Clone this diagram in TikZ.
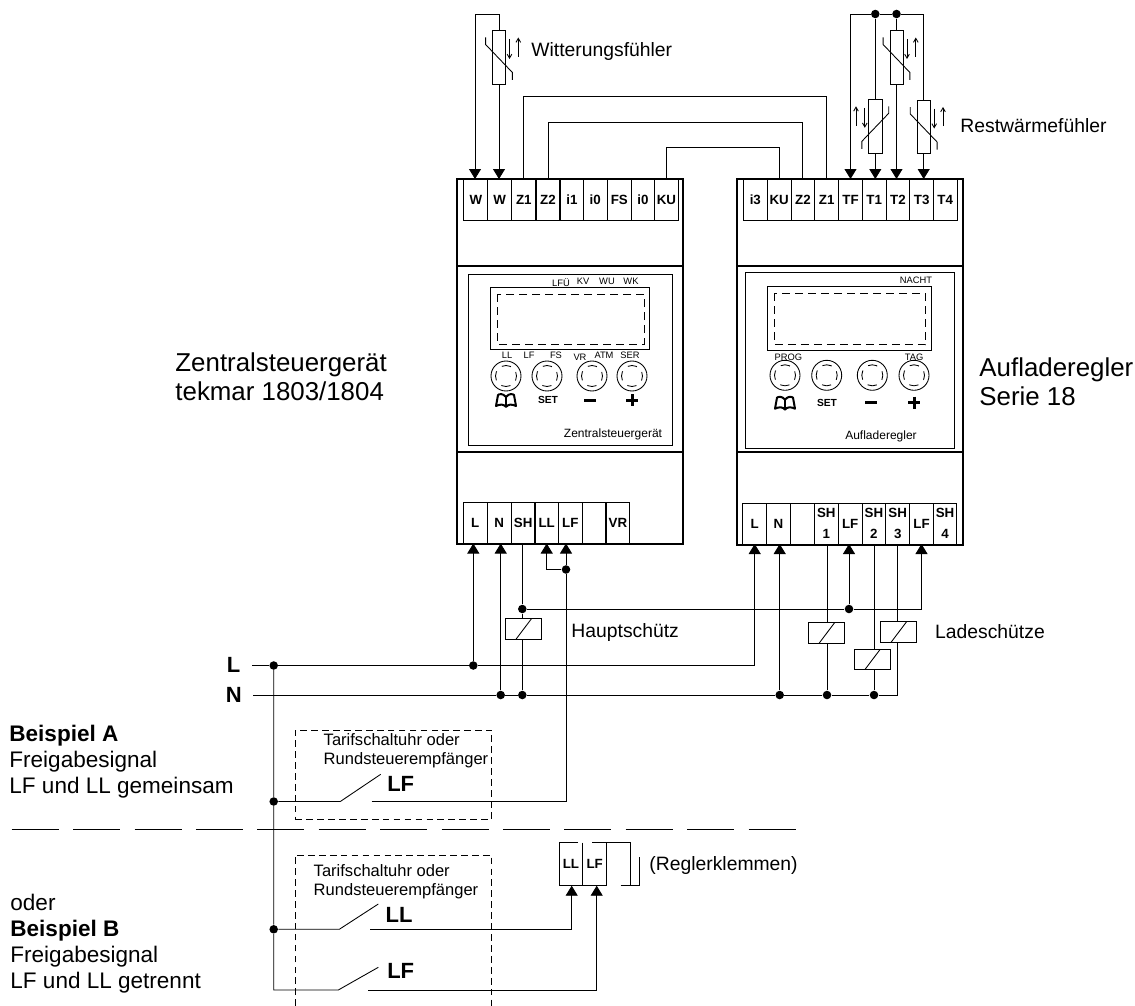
\documentclass[tikz,border=0pt]{standalone}
\usepackage{fontspec}
\setmainfont{Liberation Sans}
\usetikzlibrary{arrows.meta}

\tikzset{
        pxsize/.style 2 args={minimum width=#1*0.75pt, minimum height=#2*0.75pt},
        kasten/.style={draw, rectangle, inner sep=0pt, outer sep=0pt},
        geraet/.style={kasten, line width=1.5pt},
        klemme/.style={kasten, line width=0.65pt, pxsize={23.8}{41}, align=center, font=\fontsize{10}{15.7}\selectfont\bfseries},
        klein/.style={inner sep=0pt, font=\fontsize{7}{8}\selectfont},
        typ/.style={inner sep=0pt, font=\fontsize{9}{11}\selectfont},
        taste/.style={inner sep=0pt, font=\fontsize{7.7}{9}\selectfont\bfseries},
        titel/.style={inner sep=0pt, anchor=west, align=left, font=\fontsize{19.4}{21.6}\selectfont},
        gross/.style={inner sep=0pt, anchor=west, align=left, font=\fontsize{16.9}{19.6}\selectfont},
        mittel/.style={inner sep=0pt, anchor=west, font=\fontsize{14.5}{17}\selectfont},
        uhr/.style={inner sep=0pt, anchor=west, align=left, font=\fontsize{12.4}{14.3}\selectfont},
        netz/.style={inner sep=0pt, font=\fontsize{16.5}{18}\selectfont\bfseries},
        punkt/.style={circle, fill, inner sep=0pt, minimum size=6.4pt},
        strich/.style={dash pattern=on 5pt off 3.2pt, line width=0.65pt},
        spule/.style={kasten, fill=white, line width=0.65pt, pxsize={36}{20.5}, path picture={
                \draw ([xshift=-5.8pt]path picture bounding box.south) -- ([xshift=5.8pt]path picture bounding box.north);}},
        fuehler/.pic={
                \draw (-13.4,-20) -- (-13.4,-13) -- (13.4,15) -- (13.4,22.5);
                \draw[-{Straight Barb[length=3pt,width=3.5pt]}] (10.5,-18.5) -- (10.5,1.5);
                \draw[-{Straight Barb[length=3pt,width=3.5pt]}] (19.3,-0.8) -- (19.3,-20);},
        knopf/.pic={
                \draw (0,0) circle (15);
                \draw[dash pattern=on 7pt off 5.4pt, dash phase=3.5pt] (0,0) circle (10.5);},
        buch/.pic={
                \draw[line width=1.5pt, line join=round] (0,-3) .. controls (-3,-7) and (-7,-6) .. (-8,-5) -- (-10,6) .. controls (-6,4) and (-2,4) .. (0,7)
                        .. controls (2,4) and (6,4) .. (10,6) -- (8,-5) .. controls (7,-6) and (3,-7) .. (0,-3) -- cycle;
                \draw[line width=1.5pt] (0,-3) -- (0,7);},
}

\begin{document}
\begin{tikzpicture}[x=0.75pt, y=-0.75pt, line width=0.65pt, >={Triangle[width=9pt,length=7.5pt]}]
        \useasboundingbox (0,0) rectangle (1135,1006);

        \node[geraet, pxsize={226}{365}] (zsg) at (570,361.5) {};
        \node[geraet, pxsize={226.3}{366.5}] (alr) at (849.85,361.75) {};
        \draw[line width=1.1pt] (zsg.west |- 0,266) -- (zsg.east |- 0,266);
        \draw[line width=1.1pt] (zsg.west |- 0,452) -- (zsg.east |- 0,452);
        \draw[line width=1.1pt] (alr.west |- 0,266) -- (alr.east |- 0,266);
        \draw[line width=1.1pt] (alr.west |- 0,452) -- (alr.east |- 0,452);

        \foreach \x/\nm/\tx in {475.8/zwa/W, 499.7/zwb/W, 523.8/zza/Z1, 548/zzb/Z2, 572/zia/i1, 595.3/zib/i0, 619.3/zfs/FS, 643/zic/i0, 666.4/zku/KU}
                \node[klemme] (\nm) at (\x,199.5) {\tx};
        \foreach \x/\nm/\tx in {475.2/zl/L, 499.2/zn/N, 523.2/zsh/SH, 546.7/zll/LL, 570.3/zlf/LF, 594/zle/, 618/zvr/VR}
                \node[klemme] (\nm) at (\x,523) {\tx};
        \foreach \x/\nm/\tx in {755.3/ri/i3, 779.2/rku/KU, 802.9/rzb/Z2, 826.7/rza/Z1, 850.5/rtf/TF, 874.2/rta/T1, 898/rtb/T2, 921.7/rtc/T3, 945.2/rtd/T4}
                \node[klemme] (\nm) at (\x,199.5) {\tx};
        \foreach \x/\nm/\tx in {754.7/rl/L, 778.5/rn/N, 802.3/rle/, 826.3/rsa/{SH\\1}, 850.2/rfa/LF, 873.9/rsb/{SH\\2}, 897.7/rsc/{SH\\3}, 921.5/rfb/LF, 945/rsd/{SH\\4}}
                \node[klemme] (\nm) at (\x,523.5) {\tx};

        \node[kasten, pxsize={204}{171}] (zfeld) at (570,359.5) {};
        \node[kasten, pxsize={159}{62}] (zanz) at (569.5,318) {};
        \node[kasten, pxsize={208.6}{176}] (rfeld) at (850,360.3) {};
        \node[kasten, pxsize={163.7}{64}] (ranz) at (849.2,318) {};
        \draw[dash pattern=on 6pt off 3.75pt] (497,294) rectangle (644,344);
        \draw[dash pattern=on 6pt off 3.75pt] (774.3,293.3) rectangle (925.7,344.7);

        \foreach \x/\y/\tx in {561/283/LFÜ, 583/281/KV, 607/281/WU, 631/281/WK, 507/355/LL, 529/355/LF, 556/355/FS, 580/357/VR, 604/355/ATM, 630/355/SER, 916/280.7/NACHT, 788.3/357.3/PROG, 914/357/TAG}
                \node[klein] at (\x,\y) {\tx};
        \foreach \x/\y in {506/376, 547/376, 592/376, 632/376, 785/375.3, 826.7/375.3, 872.3/375.3, 914/375.3}
                \pic at (\x,\y) {knopf};
        \pic at (506,400) {buch};
        \pic at (785,402.7) {buch};
        \node[taste] (zset) at (548,400) {SET};
        \node[taste] (rset) at (827,402.7) {SET};
        \draw[line width=2.25pt] (584,400) -- (596,400);
        \draw[line width=2.25pt] (626,400) -- (638,400);
        \draw[line width=2.25pt] (632,394) -- (632,406);
        \draw[line width=2.25pt] (865,402.7) -- (877,402.7);
        \draw[line width=2.25pt] (908,402.7) -- (920,402.7);
        \draw[line width=2.25pt] (914,396.7) -- (914,408.7);
        \node[typ] (ztyp) at (613,434) {Zentralsteuergerät};
        \node[typ] (rtyp) at (881,436.7) {Aufladeregler};

        \node[kasten, pxsize={13.3}{53.5}] (fa) at (499,57.5) {};
        \node[kasten, pxsize={13.6}{54}] (fb) at (875.3,126.3) {};
        \node[kasten, pxsize={13}{53.6}] (fc) at (896.5,57.5) {};
        \node[kasten, pxsize={12.7}{53.7}] (fd) at (923.7,127) {};
        \pic at (499,57.5) {fuehler};
        \pic[xscale=-1] at (875.3,126.3) {fuehler};
        \pic at (896.5,57.5) {fuehler};
        \pic at (923.7,127) {fuehler};
        \coordinate (fe) at (475,14);
        \node[punkt] (da) at (875.3,14) {};
        \node[punkt] (db) at (896.5,14) {};
        \draw[->] (fa.north) |- (fe) -- (fe |- zwa.north);
        \draw[->] (fa.south) -- (fa.south |- zwb.north);
        \draw (da) -- (db);
        \draw[->] (da) -| (rtf.north);
        \draw (da) -- (fb.north);
        \draw[->] (fb.south) -- (fb.south |- rta.north);
        \draw (db) -- (fc.north);
        \draw[->] (fc.south) -- (fc.south |- rtb.north);
        \draw (db) -| (fd.north);
        \draw[->] (fd.south) -- (fd.south |- rtc.north);
        \draw (zza.north) -- ++(0,-83) -| (rza.north);
        \draw (zzb.north) -- ++(0,-57) -| (rzb.north);
        \draw (zku.north) -- ++(0,-31.3) -| (rku.north);

        \coordinate (la) at (252,665.5);
        \coordinate (na) at (253.3,695);
        \node[punkt] (dla) at (273.7,665.5) {};
        \node[punkt] (dlb) at (473.3,665.5) {};
        \node[punkt] (dna) at (500.7,695) {};
        \node[punkt] (dnb) at (522.3,695) {};
        \node[punkt] (dnc) at (779.7,695) {};
        \node[punkt] (dnd) at (827,695) {};
        \node[punkt] (dne) at (874,695) {};
        \node[punkt] (dha) at (522.3,609) {};
        \node[punkt] (dhb) at (849,609) {};
        \node[punkt] (dlf) at (566,569.5) {};
        \node[punkt] (dva) at (273.7,801.5) {};
        \node[punkt] (dvb) at (273.7,929.3) {};
        \draw (la) -- (dla) -- (dlb);
        \draw[->] (dlb) -- (dlb |- zl.south);
        \draw[->] (dlb) -| (rl.south);
        \draw (na) -- (dna) -- (dnb) -- (dnc) -- (dnd) -- (dne) -| (rsc.south);
        \draw[->] (dna) -- (dna |- zn.south);
        \draw[->] (dnc) -- (dnc |- rn.south);
        \draw (dha |- zsh.south) -- (dha) -- (dnb);
        \draw (dnd |- rsa.south) -- (dnd);
        \draw (dne |- rsb.south) -- (dne);
        \draw (dha) -- (dhb);
        \draw[->] (dhb) -- (dhb |- rfa.south);
        \draw[->] (dhb) -| (rfb.south);
        \draw[->] (dlf) -- (dlf |- zlf.south);
        \draw[->] (dlf) -| (zll.south);
        \node[spule] (sh) at (523.7,629) {};
        \node[spule] (sa) at (826.9,632.9) {};
        \node[spule] (sb) at (872.5,659.5) {};
        \node[spule] (sc) at (898.9,631.9) {};

        \node[kasten, strich, pxsize={196.4}{89}] (uhra) at (393.5,774.5) {};
        \draw[strich] (295,1006) -- (295,855) -- (491.3,855) -- (491.3,1006);
        \coordinate (saa) at (340.3,801.5);
        \coordinate (sab) at (380.7,774.3);
        \coordinate (sac) at (371.7,801.5);
        \coordinate (sba) at (339.3,929.3);
        \coordinate (sbb) at (378.3,904);
        \coordinate (sbc) at (370,929.3);
        \coordinate (sca) at (338.3,990);
        \coordinate (scb) at (378.3,967.3);
        \coordinate (scc) at (368.3,990.5);
        \node[inner sep=0pt, font=\fontsize{10}{12}\selectfont\bfseries] (kll) at (570.9,864) {LL};
        \node[inner sep=0pt, font=\fontsize{10}{12}\selectfont\bfseries] (klf) at (594.7,864) {LF};
        \coordinate (pll) at (571.7,885.7);
        \coordinate (plf) at (596.7,885.7);
        \draw (dla) -- (dva) -- (dvb) |- (sca) -- (scb);
        \draw (dva) -- (saa) -- (sab);
        \draw (dvb) -- (sba) -- (sbb);
        \draw (sac) -| (dlf);
        \draw[->] (sbc) -| (pll);
        \draw[->] (scc) -| (plf);
        \draw (578,842.7) -- (559,842.7) -- (559,885.7) -- (606.7,885.7) -- (606.7,842.7) -- (591.7,842.7);
        \draw (582.7,842.7) -- (582.7,885.7);
        \draw (606.7,842.7) -- (630.7,842.7) -- (630.7,885.7);
        \draw (620.7,885.7) -- (639,885.7) -- (639,857.3);

        \coordinate (ta) at (11.7,829.7);
        \coordinate (tb) at (796,829.7);
        \draw[dash pattern=on 35.25pt off 10.8pt] (ta) -- (tb);

        \node[mittel] (wf) at (531,52) {Witterungsfühler};
        \node[mittel] (rf) at (960,126) {Restwärmefühler};
        \node[mittel] (hs) at (571,632.7) {Hauptschütz};
        \node[mittel] (ls) at (934.7,631.7) {Ladeschütze};
        \node[mittel] (rk) at (649,865) {(Reglerklemmen)};
        \node[titel] (zt) at (175,377) {Zentralsteuergerät\\tekmar 1803/1804};
        \node[titel] (at) at (979,381.5) {Aufladeregler\\Serie 18};
        \node[gross] (ba) at (9,761.7) {\textbf{Beispiel A}\\Freigabesignal\\LF und LL gemeinsam};
        \node[gross] (bb) at (10,943.5) {oder\\\textbf{Beispiel B}\\Freigabesignal\\LF und LL getrennt};
        \node[netz] (nl) at (233.7,665) {L};
        \node[netz] (nn) at (233.7,695) {N};
        \node[uhr] (ua) at (323.3,751) {Tarifschaltuhr oder\\Rundsteuerempfänger};
        \node[uhr] (ub) at (313.3,882) {Tarifschaltuhr oder\\Rundsteuerempfänger};
        \node[netz] (ka) at (400.7,784) {LF};
        \node[netz] (kb) at (399,915) {LL};
        \node[netz] (kc) at (400.7,970.7) {LF};
\end{tikzpicture}
\end{document}
